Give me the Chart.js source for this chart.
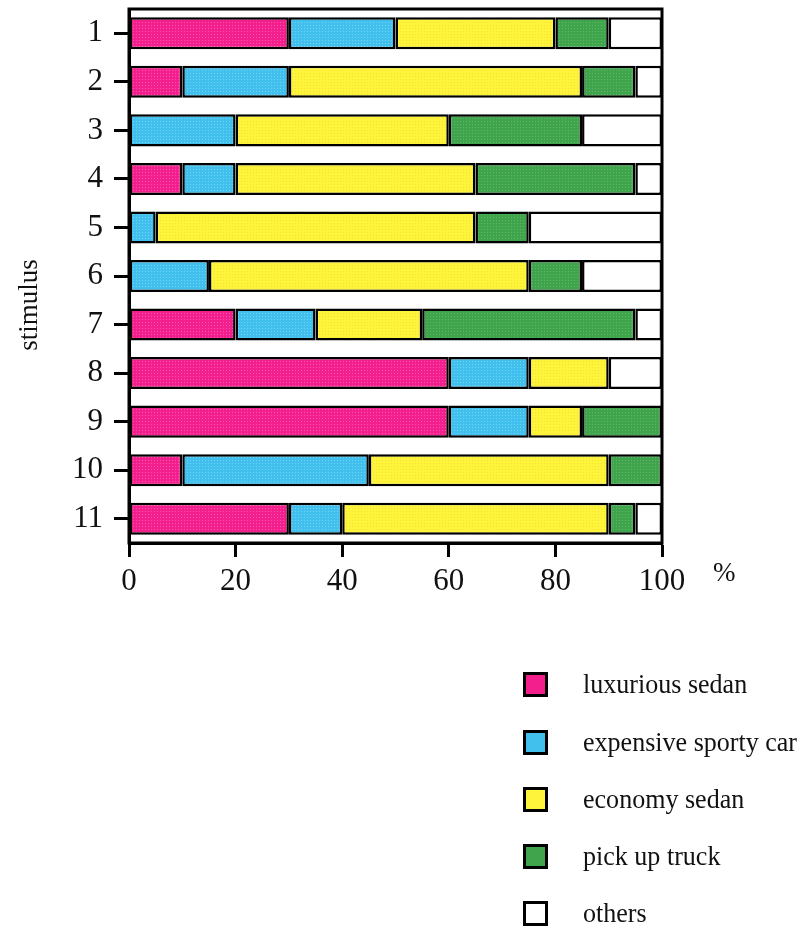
<!DOCTYPE html>
<html>
<head>
<meta charset="utf-8">
<script src="https://cdn.jsdelivr.net/npm/chart.js@4"></script>
<style>
  html, body { margin: 0; padding: 0; background: #fff; }
  #wrap { position: relative; width: 804px; height: 952px; }
  #legend { position: absolute; left: 523px; top: 0; font-family: "Liberation Serif", serif; font-size: 28px; color: #111; }
  .item { position: absolute; left: 0; width: 320px; height: 30px; display: flex; align-items: center; white-space: nowrap; }
  .box { width: 19px; height: 19px; border: 3px solid #000; margin-right: 35px; flex: none; }
  .name { display: inline-block; transform: scaleX(0.93); transform-origin: left center; }
</style>
</head>
<body>
<div id="wrap">
  <canvas id="choiceChart" width="804" height="952"></canvas>
  <div id="legend"></div>
</div>
<script>
const stimuli = ["1", "2", "3", "4", "5", "6", "7", "8", "9", "10", "11"];
const seriesNames = ["luxurious sedan", "expensive sporty car", "economy sedan", "pick up truck", "others"];
const luxuriousSedan = [30, 10, 0, 10, 0, 0, 20, 60, 60, 10, 30];
const sportyCar      = [20, 20, 20, 10, 5, 15, 15, 15, 15, 35, 10];
const economySedan   = [30, 55, 40, 45, 60, 60, 20, 15, 10, 45, 50];
const pickUpTruck    = [10, 10, 25, 30, 10, 10, 40, 0, 15, 10, 5];
const others         = [10, 5, 15, 5, 25, 15, 5, 10, 0, 0, 5];
const xTicks = [0, 20, 40, 60, 80, 100];

const baseColors = ["#f31f8c", "#41c0ee", "#fff43c", "#3fa44b", "#ffffff"];
const dotColors  = ["#fb55ad", "#6fd2f6", "#f4e52c", "#5cb866", "#ffffff"];

// small dotted fill, like the screened colour in the printed figure
function dotted(base, dot) {
  const c = document.createElement("canvas");
  c.width = 3; c.height = 3;
  const g = c.getContext("2d");
  g.fillStyle = base;
  g.fillRect(0, 0, 3, 3);
  g.fillStyle = dot;
  g.fillRect(1, 1, 1, 1);
  return g.createPattern(c, "repeat");
}

const values = [luxuriousSedan, sportyCar, economySedan, pickUpTruck, others];
const datasets = seriesNames.map((name, i) => ({
  label: name,
  data: values[i],
  backgroundColor: dotted(baseColors[i], dotColors[i]),
  borderColor: "#000",
  borderWidth: 2.5,
  borderSkipped: false,
  barPercentage: 0.66,
  categoryPercentage: 1,
}));

const serif = "'Liberation Serif', 'Times New Roman', serif";

const extras = {
  id: "extras",
  afterDatasetsDraw(chart) {
    const { ctx, chartArea: a } = chart;
    ctx.save();
    ctx.strokeStyle = "#000";
    ctx.lineWidth = 3;
    ctx.strokeRect(a.left, a.top, a.right - a.left, a.bottom - a.top);
    ctx.fillStyle = "#111";
    ctx.font = "27px " + serif;
    ctx.textAlign = "left";
    ctx.textBaseline = "alphabetic";
    ctx.fillText("%", 713, 581);
    ctx.translate(37, 305);
    ctx.rotate(-Math.PI / 2);
    ctx.textAlign = "center";
    ctx.fillText("stimulus", 0, 0);
    ctx.restore();
  },
};

new Chart(document.getElementById("choiceChart"), {
  type: "bar",
  data: { labels: stimuli, datasets },
  options: {
    indexAxis: "y",
    responsive: false,
    animation: false,
    events: [],
    layout: { padding: { top: 9, right: 142, left: 0, bottom: 0 } },
    plugins: { legend: { display: false }, tooltip: { enabled: false } },
    scales: {
      x: {
        stacked: true,
        min: 0,
        max: 100,
        afterFit: (s) => { s.height = 409; },
        afterBuildTicks: (s) => { s.ticks = xTicks.map((v) => ({ value: v })); },
        grid: { drawOnChartArea: false, tickLength: 14, tickWidth: 3, tickColor: "#000" },
        border: { display: true, color: "#000", width: 3 },
        ticks: { color: "#111", padding: 6, font: { family: serif, size: 31 }, maxRotation: 0 },
      },
      y: {
        stacked: true,
        afterFit: (s) => { s.width = 129; s.paddingTop = 0; s.paddingBottom = 0; },
        grid: { offset: false, drawOnChartArea: false, tickLength: 15, tickWidth: 3, tickColor: "#000" },
        border: { display: true, color: "#000", width: 3 },
        ticks: { color: "#111", padding: 11, font: { family: serif, size: 31 } },
      },
    },
  },
  plugins: [extras],
});

// legend down the right side
const legend = document.getElementById("legend");
const legendY = [684, 742, 799, 856, 913];
seriesNames.forEach((name, i) => {
  const item = document.createElement("div");
  item.className = "item";
  item.style.top = (legendY[i] - 15) + "px";
  const box = document.createElement("span");
  box.className = "box";
  box.style.background = baseColors[i];
  const label = document.createElement("span");
  label.className = "name";
  label.textContent = name;
  item.appendChild(box);
  item.appendChild(label);
  legend.appendChild(item);
});
</script>
</body>
</html>
